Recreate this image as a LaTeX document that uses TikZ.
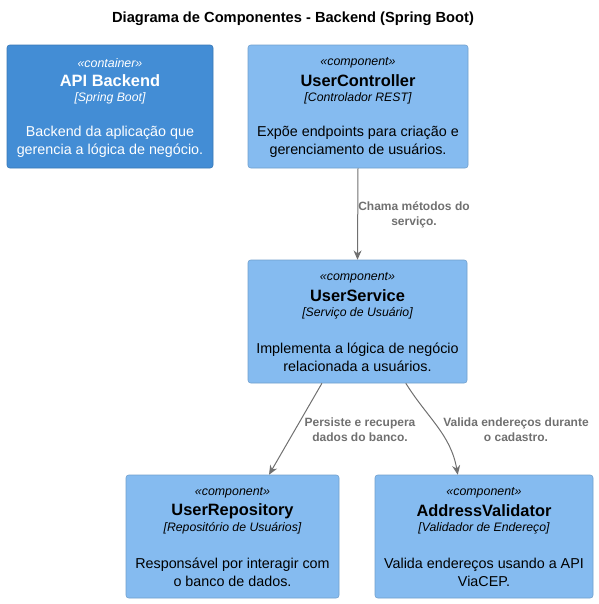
\documentclass[tikz,border=0pt]{standalone}
\usepackage{fontspec}
\setmainfont{Liberation Sans}
\usetikzlibrary{arrows.meta,calc}

\definecolor{containerblue}{HTML}{438DD5}
\definecolor{componentblue}{HTML}{85BBF0}
\definecolor{relgray}{HTML}{707070}

\begin{document}
\begin{tikzpicture}[x=0.75pt,y=-0.75pt,
  container/.style={fill=containerblue, draw=containerblue!85!black, line width=0.4pt, rounded corners=2pt, inner sep=0pt, minimum height=92.25pt},
  component/.style={fill=componentblue, draw=componentblue!85!black, line width=0.4pt, rounded corners=2pt, inner sep=0pt, minimum height=92.25pt},
  stereo/.style={font=\fontsize{9.3}{11}\selectfont\itshape, inner sep=0pt},
  cname/.style={font=\fontsize{12.3}{14}\selectfont\bfseries, inner sep=0pt},
  tech/.style={font=\fontsize{9.2}{11}\selectfont\itshape, inner sep=0pt},
  desc/.style={font=\fontsize{10.75}{13.5}\selectfont, align=center, inner sep=0pt},
  rel/.style={draw=relgray, line width=0.75pt, -{Stealth[length=7pt,width=6pt]}},
  rellabel/.style={font=\fontsize{9}{11.25}\selectfont\bfseries, text=relgray, align=center, inner sep=0pt}]
  \useasboundingbox (0,0) rectangle (599,604);

  % title
  \node[font=\fontsize{11}{13}\selectfont\bfseries] (title) at (293,19) {Diagrama de Componentes - Backend (Spring Boot)};

  % boxes
  \node[container, minimum width=154.5pt]  (api)  at (110,106.5)   {};
  \node[component, minimum width=165pt]    (ctl)  at (358,106.5)   {};
  \node[component, minimum width=164.25pt] (svc)  at (357.5,321.5) {};
  \node[component, minimum width=159.75pt] (repo) at (232.5,536.5) {};
  \node[component, minimum width=163.5pt]  (addr) at (484,536.5)   {};

  % API Backend
  \node[stereo, text=white] (api-st)   at (110,63)  {«container»};
  \node[cname, text=white]  (api-nm)   at (110,81)  {API Backend};
  \node[tech, text=white]   (api-tc)   at (110,98)  {[Spring Boot]};
  \node[desc, text=white]   (api-ds)   at (110,142) {Backend da aplicação que\\gerencia a lógica de negócio.};

  % UserController
  \node[stereo] (ctl-st) at (358,63)  {«component»};
  \node[cname]  (ctl-nm) at (358,81)  {UserController};
  \node[tech]   (ctl-tc) at (358,98)  {[Controlador REST]};
  \node[desc]   (ctl-ds) at (358,142) {Expõe endpoints para criação e\\gerenciamento de usuários.};

  % UserService
  \node[stereo] (svc-st) at (357.5,278) {«component»};
  \node[cname]  (svc-nm) at (357.5,296) {UserService};
  \node[tech]   (svc-tc) at (357.5,313) {[Serviço de Usuário]};
  \node[desc]   (svc-ds) at (357.5,357) {Implementa a lógica de negócio\\relacionada a usuários.};

  % UserRepository
  \node[stereo] (repo-st) at (232.5,493) {«component»};
  \node[cname]  (repo-nm) at (232.5,511) {UserRepository};
  \node[tech]   (repo-tc) at (232.5,528) {[Repositório de Usuários]};
  \node[desc]   (repo-ds) at (232.5,572) {Responsável por interagir com\\o banco de dados.};

  % AddressValidator
  \node[stereo] (addr-st) at (484,493) {«component»};
  \node[cname]  (addr-nm) at (484,511) {AddressValidator};
  \node[tech]   (addr-tc) at (484,528) {[Validador de Endereço]};
  \node[desc]   (addr-ds) at (484,572) {Valida endereços usando a API\\ViaCEP.};

  % relations
  \draw[rel] (ctl.south) -- (svc.north);
  \node[rellabel] (l1) at (414,215) {Chama métodos do\\serviço.};

  \draw[rel] ($(svc.south west)!0.338!(svc.south east)$) -- ($(repo.north west)!0.671!(repo.north east)$);
  \node[rellabel] (l2) at (360,430) {Persiste e recupera\\dados do banco.};

  \draw[rel] ($(svc.south west)!0.72!(svc.south east)$) to[out=-58,in=100] ($(addr.north west)!0.38!(addr.north east)$);
  \node[rellabel] (l3) at (516,430) {Valida endereços durante\\o cadastro.};

\end{tikzpicture}
\end{document}
